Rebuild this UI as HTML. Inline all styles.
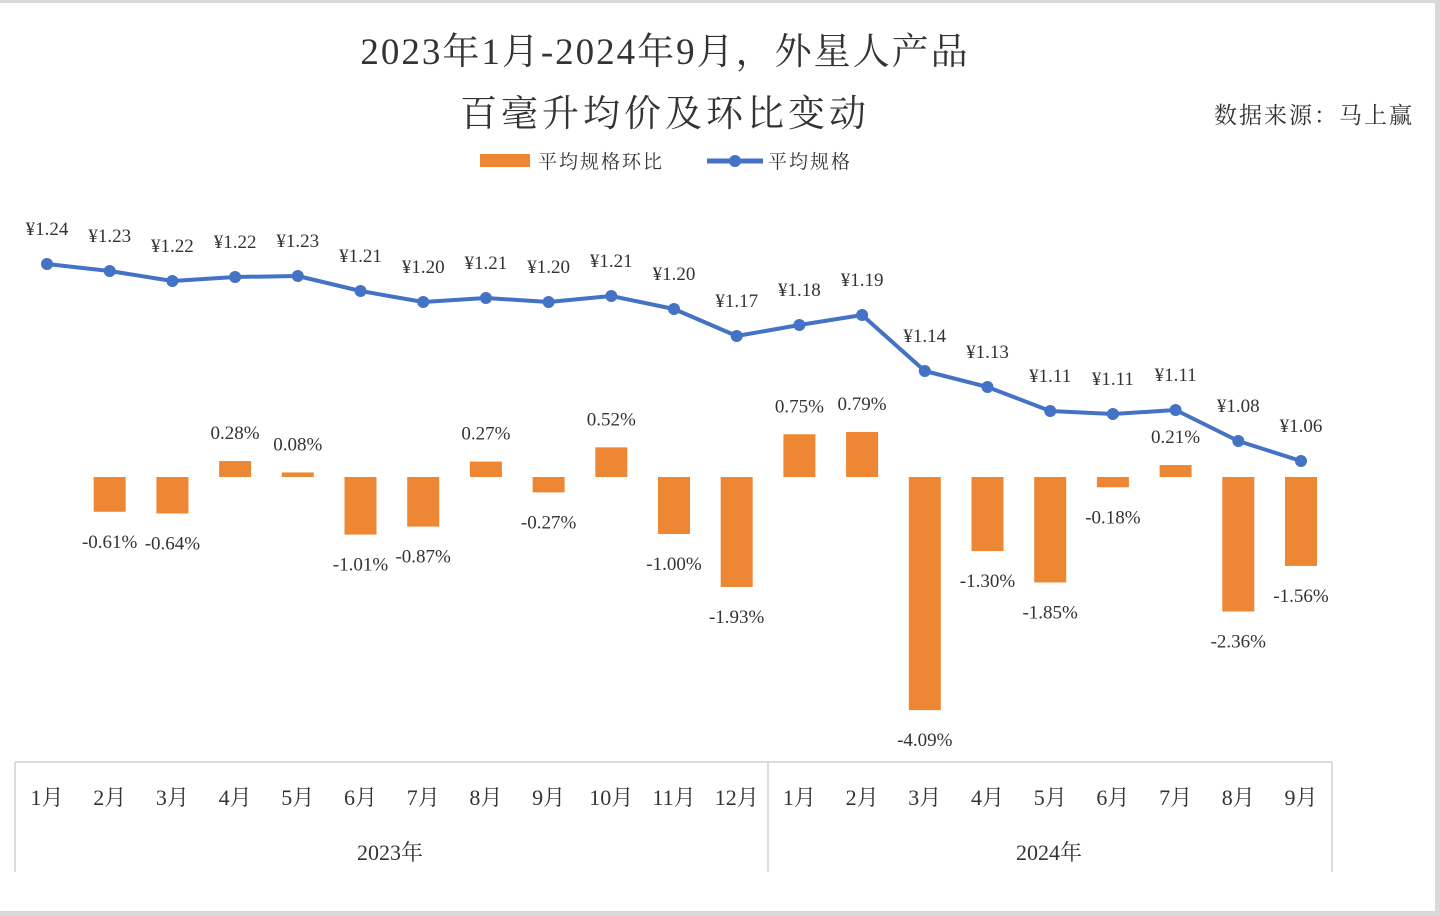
<!DOCTYPE html>
<html><head><meta charset="utf-8"><style>
html,body{margin:0;padding:0;background:#fff}
body{width:1440px;height:916px;overflow:hidden;position:relative}
svg{position:absolute;left:0;top:0}
text{font-family:"Liberation Serif","Noto Serif CJK SC",serif;fill:#333}
</style></head><body>
<svg width="1440" height="916" viewBox="0 0 1440 916" xmlns="http://www.w3.org/2000/svg">
<rect x="0" y="0" width="1440" height="916" fill="#fff"/>
<rect x="0" y="0" width="1440" height="3" fill="#d9d9d9"/>
<rect x="1435" y="0" width="5" height="916" fill="#d9d9d9"/>
<rect x="0" y="911" width="1440" height="5" fill="#d9d9d9"/>
<text x="665" y="64" font-size="37" text-anchor="middle" fill="#222" letter-spacing="2">2023年1月-2024年9月，外星人产品</text>
<text x="665" y="126" font-size="37" text-anchor="middle" fill="#222" letter-spacing="4">百毫升均价及环比变动</text>
<text x="1314" y="123" font-size="23" text-anchor="middle" fill="#444" letter-spacing="2">数据来源：马上赢</text>
<rect x="480" y="154" width="50" height="13" fill="#ed8733"/>
<text x="538" y="168" font-size="19" fill="#555" letter-spacing="2">平均规格环比</text>
<line x1="707" y1="161" x2="763" y2="161" stroke="#4472c4" stroke-width="5"/>
<circle cx="735" cy="161" r="6" fill="#4472c4"/>
<text x="768" y="168" font-size="19" fill="#555" letter-spacing="2">平均规格</text>
<g id="chart"></g>
<g stroke="#d0d0d0" stroke-width="1.5" fill="none">
<line x1="15" y1="762" x2="1332" y2="762"/>
<line x1="15" y1="762" x2="15" y2="872"/>
<line x1="768" y1="762" x2="768" y2="872"/>
<line x1="1332" y1="762" x2="1332" y2="872"/>
</g>
<text x="390" y="860" font-size="22" text-anchor="middle">2023年</text>
<text x="1049" y="860" font-size="22" text-anchor="middle">2024年</text>
</svg>
<script>
var g=document.getElementById('chart'),ns='http://www.w3.org/2000/svg';
function el(t,a,txt){var e=document.createElementNS(ns,t);for(var k in a)e.setAttribute(k,a[k]);if(txt)e.textContent=txt;g.appendChild(e);return e;}
var ys=[264,271,281,277,276,291,302,298,302,296,309,336,325,315,371,387,411,414,410,441,461];
var pr=['1.24','1.23','1.22','1.22','1.23','1.21','1.20','1.21','1.20','1.21','1.20','1.17','1.18','1.19','1.14','1.13','1.11','1.11','1.11','1.08','1.06'];
var pc=[null,-0.61,-0.64,0.28,0.08,-1.01,-0.87,0.27,-0.27,0.52,-1.00,-1.93,0.75,0.79,-4.09,-1.30,-1.85,-0.18,0.21,-2.36,-1.56];
var mo=['1月','2月','3月','4月','5月','6月','7月','8月','9月','10月','11月','12月','1月','2月','3月','4月','5月','6月','7月','8月','9月'];
function X(i){return 47+i*62.7;}
var z=477,s=57;
for(var i=0;i<21;i++){
 var x=X(i);
 if(pc[i]!==null){var h=pc[i]*s;
  el('rect',{x:x-16,y:h>0?z-h:z,width:32,height:Math.max(Math.abs(h),3),fill:'#ed8733'});
  var ty=h>0?z-h-22:z-h+36;
  el('text',{x:x,y:ty,'font-size':19,'text-anchor':'middle'},pc[i].toFixed(2)+'%');}
 el('text',{x:x,y:805,'font-size':22,'text-anchor':'middle'},mo[i]);
}
var d='';for(i=0;i<21;i++)d+=(i?'L':'M')+X(i)+' '+ys[i];
el('path',{d:d,stroke:'#4472c4','stroke-width':4,fill:'none','stroke-linejoin':'round'});
for(i=0;i<21;i++){el('circle',{cx:X(i),cy:ys[i],r:6,fill:'#4472c4'});
 el('text',{x:X(i),y:ys[i]-29,'font-size':19,'text-anchor':'middle'},'¥'+pr[i]);}
</script>
</body></html>
